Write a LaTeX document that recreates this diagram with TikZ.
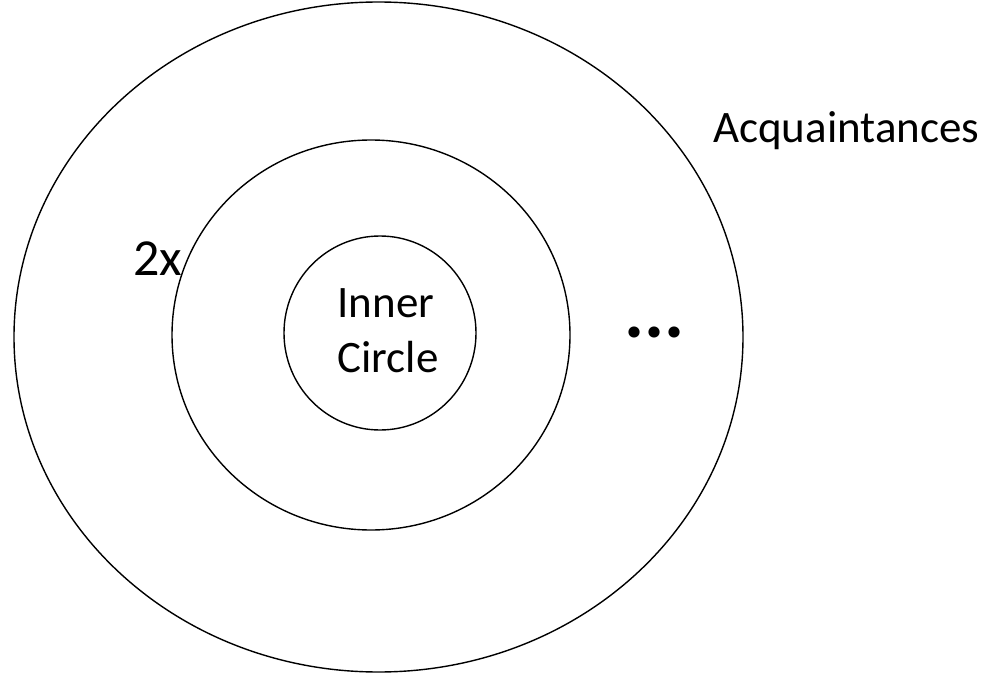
\documentclass[tikz,border=0pt]{standalone}
\usepackage{fontspec}
\setmainfont{Carlito}
\usetikzlibrary{shapes.geometric}
\begin{document}
\begin{tikzpicture}[x=1pt,y=-1pt,
  ring/.style={draw=black,line width=1.4pt},
  lbl/.style={inner sep=0pt,font=\fontsize{45}{55}\selectfont}]
\useasboundingbox (0,0) rectangle (1002,674);
\draw[ring] (378.5,337) ellipse [x radius=364.5, y radius=335];
\draw[ring] (371,335) ellipse [x radius=199, y radius=195];
\draw[ring] (380,333) ellipse [x radius=96, y radius=97];
\node[lbl,anchor=base west] (acq) at (713,143) {Acquaintances};
\node[inner sep=0pt,anchor=base west,font=\fontsize{52}{60}\selectfont] (two) at (133,275) {2x};
\node[lbl,anchor=base] (inner) at (386,317) {Inner};
\node[lbl,anchor=base] (circ) at (388,372) {Circle};
\node[inner sep=0pt,anchor=base west,font=\fontsize{75}{80}\selectfont\bfseries] (dots) at (624,337) {...};
\end{tikzpicture}
\end{document}
